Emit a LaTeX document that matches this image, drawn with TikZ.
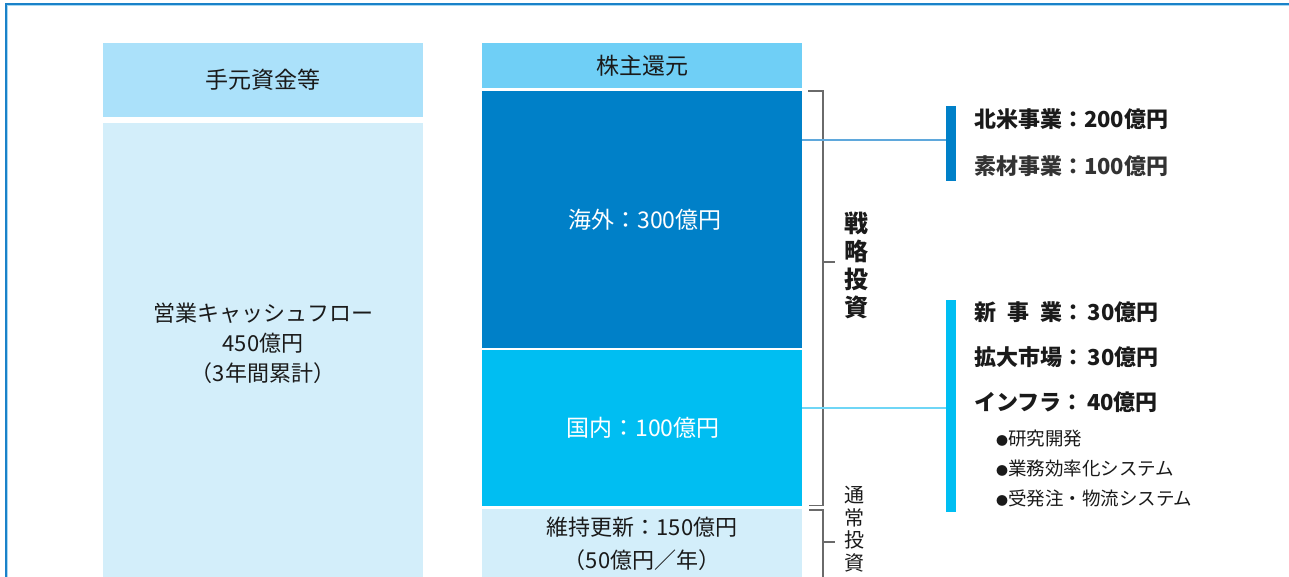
\documentclass[tikz,border=0pt]{standalone}
\usepackage{fontspec}
\setmainfont{Noto Sans CJK JP}
\definecolor{frameblue}{HTML}{1A82C9}
\definecolor{framelight}{HTML}{A8D8F2}
\definecolor{cashtop}{HTML}{ABE1FA}
\definecolor{cashlow}{HTML}{D3EEFA}
\definecolor{retcol}{HTML}{6FCFF6}
\definecolor{abroad}{HTML}{0080C8}
\definecolor{domestic}{HTML}{00BEF2}
\definecolor{line1}{HTML}{5FA8DC}
\definecolor{line2}{HTML}{6FD6F6}
\definecolor{brk}{HTML}{6A6A6A}
\definecolor{txt}{HTML}{1A1A1A}
\definecolor{txtgray}{HTML}{333333}
\tikzset{
  blk/.style={draw=none, inner sep=0, outer sep=0, minimum width=320pt},
  lbl/.style={inner sep=0, outer sep=0, text=txt, font=\fontsize{23}{23}\selectfont},
  wlbl/.style={lbl, text=white},
  item/.style={inner sep=0, outer sep=0, anchor=west, text=txt, font=\bfseries\fontsize{22}{22}\selectfont},
  sub/.style={inner sep=0, outer sep=0, anchor=west, text=txt, font=\fontsize{18.5}{18.5}\selectfont},
  bracketline/.style={draw=brk, line width=1.2pt},
  bar/.style={draw=none, inner sep=0, outer sep=0, minimum width=10pt},
}
\newcommand{\dotmark}{{\fontsize{12}{12}\selectfont ●}}
\begin{document}
\begin{tikzpicture}[x=1pt,y=-1pt]
\useasboundingbox (0,0) rectangle (1289,576);
\begin{scope}
\clip (0,0) rectangle (1289,576);
% frame
\draw[framelight, line width=1pt] (7.8,640) -- (7.8,5.8) -- (1320,5.8);
\draw[frameblue, line width=1.8pt] (6,640) -- (6,4) -- (1320,4);
% left column
\node[blk, fill=cashtop, minimum height=74pt] (cash) at (263,80) {};
\node[lbl] (cashlbl) at (cash.center) {手元資金等};
\node[blk, fill=cashlow, minimum height=480pt] (ocf) at (263,363) {};
\node[lbl, align=center, font=\fontsize{22}{30}\selectfont] (ocflbl) at (263,343) {営業キャッシュフロー\\450億円\\（3年間累計）};
% middle column
\node[blk, fill=retcol, minimum height=45.5pt] (ret) at (642,65.7) {};
\node[lbl] (retlbl) at (ret.center) {株主還元};
\node[blk, fill=abroad, minimum height=257.5pt] (kaigai) at (642,219.5) {};
\node[wlbl] (kaigailbl) at (645,220) {海外：300億円};
\node[blk, fill=domestic, minimum height=156pt] (kokunai) at (642,428) {};
\node[wlbl] (kokunailbl) at (643,428) {国内：100億円};
\node[blk, fill=cashlow, minimum height=80pt] (iji) at (642,549) {};
\node[lbl, align=center, font=\fontsize{22}{33}\selectfont] (ijilbl) at (642,543.5) {維持更新：150億円\\（50億円／年）};
% brackets
\draw[bracketline] (808,91) -- (823,91) -- (823,505.5) -- (809,505.5);
\draw[bracketline] (823,262) -- (835,262);
\draw[bracketline] (809,510) -- (823,510) -- (823,600);
\draw[bracketline] (823,542) -- (835,542);
\node[inner sep=0, align=center, text=txt, font=\bfseries\fontsize{24}{28}\selectfont] (senryaku) at (856,265) {戦\\略\\投\\資};
\node[inner sep=0, align=center, text=txt, font=\fontsize{20}{22.5}\selectfont] (tsujo) at (854,529) {通\\常\\投\\資};
% bars
\node[bar, fill=abroad, minimum height=75pt] (bar1) at (951,143.5) {};
\node[bar, fill=domestic, minimum height=212pt] (bar2) at (951,406) {};
% connectors
\draw[line1, line width=1.8pt] (kaigai.east |- 0,140) -- (bar1.west |- 0,140);
\draw[line2, line width=2pt] (kokunai.east |- 0,407.5) -- (bar2.west |- 0,407.5);
% items
\node[item] (na) at (974,119) {北米事業：200億円};
\node[item, text=txtgray] (mat) at (974,166) {素材事業：100億円};
\node[item] (newb) at (974,312) {\makebox[4em][s]{新\hfill 事\hfill 業}：\,30億円};
\node[item] (exp) at (974,357) {拡大市場：\,30億円};
\node[item] (infra) at (974,402) {インフラ：\,40億円};
\node[sub] (rd) at (996,438) {\dotmark 研究開発};
\node[sub] (eff) at (996,468) {\dotmark 業務効率化システム};
\node[sub] (ord) at (996,498) {\dotmark 受発注・物流システム};
\end{scope}
\end{tikzpicture}
\end{document}
